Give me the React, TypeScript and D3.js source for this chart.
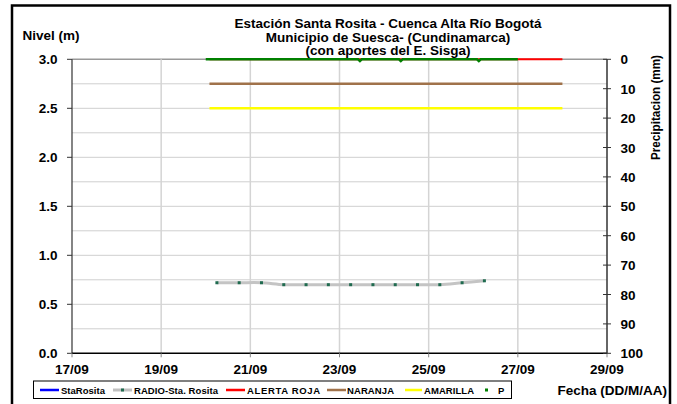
import React from 'react';
import * as d3 from 'd3';

const W = 677;
const H = 404;
const FONT = "Arial, 'Liberation Sans', sans-serif";

const t = (d: number, h: number = 0) => new Date(Date.UTC(2010, 8, d, h));

// x axis
const xDomainStart: [number, number] = [17, 0];
const xDomainEnd: [number, number] = [29, 0];
const xTickDays = [17, 19, 21, 23, 25, 27, 29];
const xTickLabels = ['17/09', '19/09', '21/09', '23/09', '25/09', '27/09', '29/09'];

// left axis (Nivel m)
const yLeftTicks = [0, 0.5, 1.0, 1.5, 2.0, 2.5, 3.0];
const yLeftGrid = [0.25, 0.5, 0.75, 1.0, 1.25, 1.5, 1.75, 2.0, 2.25, 2.5, 2.75, 3.0];

// right axis (Precipitacion mm)
const yRightTicks = [0, 10, 20, 30, 40, 50, 60, 70, 80, 90, 100];

// RADIO-Sta. Rosita series
const radioTimes: [number, number][] = [
  [20, 6], [20, 18], [21, 6], [21, 18], [22, 6], [22, 18], [23, 6],
  [23, 18], [24, 6], [24, 18], [25, 6], [25, 18], [26, 6],
];
const radioValues = [0.72, 0.72, 0.72, 0.70, 0.70, 0.70, 0.70, 0.70, 0.70, 0.70, 0.70, 0.72, 0.74];

// StaRosita (no visible data)
const staRositaTimes: [number, number][] = [];
const staRositaValues: number[] = [];

// Alert thresholds
const alertTimes: [number, number][] = [[20, 2], [28, 0]];
const alertaRoja = 3.0;
const naranja = 2.75;
const amarilla = 2.5;

// Precipitation P
const pTimes: [number, number][] = [
  [20, 0], [23, 10], [23, 11], [23, 12], [24, 8], [24, 9], [24, 10],
  [26, 2], [26, 3], [26, 4], [27, 0],
];
const pValues = [0, 0, 0.6, 0, 0, 0.6, 0, 0, 0.6, 0, 0];

const titleLines = [
  'Estación Santa Rosita - Cuenca Alta Río Bogotá',
  'Municipio de Suesca- (Cundinamarca)',
  '(con aportes del  E. Sisga)',
];

const legendItems = [
  { label: 'StaRosita', color: '#0000ff', kind: 'line' },
  { label: 'RADIO-Sta. Rosita', color: '#c0c0c0', kind: 'radio' },
  { label: 'ALERTA ROJA', color: '#ff0000', kind: 'line' },
  { label: 'NARANJA', color: '#a0724a', kind: 'line' },
  { label: 'AMARILLA', color: '#ffff00', kind: 'line' },
  { label: 'P', color: '#008000', kind: 'dot' },
];

export default function App() {
  const left = 72, right = 607, top = 59.3, bottom = 353.3;
  const x = d3.scaleUtc().domain([t(...xDomainStart), t(...xDomainEnd)]).range([left, right]);
  const yL = d3.scaleLinear().domain([0, 3]).range([bottom, top]);
  const yR = d3.scaleLinear().domain([100, 0]).range([bottom, top]);

  const radioData = radioTimes.map((d, i) => ({ x: t(d[0], d[1]), y: radioValues[i] }));
  const radioLine = d3.line<{ x: Date; y: number }>()
    .x(d => x(d.x)).y(d => yL(d.y)).curve(d3.curveCatmullRom.alpha(0.5));

  const staData = staRositaTimes.map((d, i) => ({ x: t(d[0], d[1]), y: staRositaValues[i] }));
  const staLine = d3.line<{ x: Date; y: number }>().x(d => x(d.x)).y(d => yL(d.y));

  const pData = pTimes.map((d, i) => ({ x: t(d[0], d[1]), y: pValues[i] }));
  const pLine = d3.line<{ x: Date; y: number }>().x(d => x(d.x)).y(d => yR(d.y));

  const aX1 = x(t(...alertTimes[0]));
  const aX2 = x(t(...alertTimes[1]));

  // legend layout
  const legendPos = [
    { lx1: 40, lx2: 59, tx: 61, tw: 44 },
    { lx1: 113, lx2: 132, tx: 134, tw: 84 },
    { lx1: 226, lx2: 245, tx: 247, tw: 73 },
    { lx1: 327, lx2: 346, tx: 347, tw: 47 },
    { lx1: 405, lx2: 422, tx: 424, tw: 50 },
    { lx1: 485, lx2: 489, tx: 498, tw: 6 },
  ];
  const legY = 390;

  return (
    <svg width={W} height={H} style={{ position: 'absolute', left: 0, top: 0, background: '#fff' }}
      fontFamily={FONT}>
      <rect x={0} y={0} width={W} height={H} fill="#fff" />
      {/* outer frame */}
      <rect x={12} y={5.5} width={658} height={420} fill="none" stroke="#000" strokeWidth={2.5} />

      {/* title */}
      {titleLines.map((s, i) => (
        <text key={i} x={388} y={28 + i * 13.5} textAnchor="middle" fontSize={13.5} fontWeight="bold">{s}</text>
      ))}
      <text x={22.5} y={40} fontSize={13.5} fontWeight="bold">Nivel (m)</text>

      {/* grid */}
      {yLeftGrid.map(v => (
        <line key={'hg' + v} x1={left} x2={right} y1={yL(v)} y2={yL(v)}
          stroke={v === 3 ? '#999' : '#cfcfcf'} strokeWidth={v === 3 ? 1.5 : 1} />
      ))}
      {xTickDays.slice(1, -1).map(d => (
        <line key={'vg' + d} x1={x(t(d))} x2={x(t(d))} y1={top} y2={bottom} stroke="#d4d4d4" strokeWidth={1.5} />
      ))}

      {/* left axis */}
      <line x1={left} x2={left} y1={top} y2={bottom} stroke="#333" strokeWidth={1.2} />
      {yLeftTicks.map(v => (
        <g key={'yl' + v}>
          <line x1={left - 5} x2={left} y1={yL(v)} y2={yL(v)} stroke="#333" strokeWidth={1} />
          <text x={57.5} y={yL(v) + 5} textAnchor="end" fontSize={13.5} fontWeight="bold">{v.toFixed(1)}</text>
        </g>
      ))}

      {/* bottom axis */}
      <line x1={left} x2={right} y1={bottom} y2={bottom} stroke="#000" strokeWidth={1.5} />
      {xTickDays.map((d, i) => (
        <g key={'xt' + d}>
          <line x1={x(t(d))} x2={x(t(d))} y1={bottom} y2={bottom + 4} stroke="#888" strokeWidth={1} />
          <text x={x(t(d))} y={374} textAnchor="middle" fontSize={13.5} fontWeight="bold">{xTickLabels[i]}</text>
        </g>
      ))}

      {/* right axis */}
      <line x1={right} x2={right} y1={top} y2={bottom} stroke="#333" strokeWidth={1.5} />
      {yRightTicks.map(v => (
        <g key={'yr' + v}>
          <line x1={right - 4} x2={right + 4} y1={yR(v)} y2={yR(v)} stroke="#333" strokeWidth={1} />
          <text x={620.5} y={yR(v) + 5} fontSize={13.5} fontWeight="bold">{v}</text>
        </g>
      ))}
      <text transform={`translate(659.5,107.5) rotate(-90)`} textAnchor="middle" fontSize={12.5} fontWeight="bold"
        textLength={105} lengthAdjust="spacingAndGlyphs">Precipitacion (mm)</text>

      {/* thresholds */}
      <line x1={aX1} x2={aX2} y1={yL(amarilla)} y2={yL(amarilla)} stroke="#ffff00" strokeWidth={2.5} />
      <line x1={aX1} x2={aX2} y1={yL(naranja)} y2={yL(naranja)} stroke="#a0724a" strokeWidth={2.5} />
      <line x1={aX1} x2={aX2} y1={yL(alertaRoja)} y2={yL(alertaRoja)} stroke="#ff0000" strokeWidth={2} />

      {/* StaRosita */}
      {staData.length > 0 && <path d={staLine(staData) || ''} fill="none" stroke="#0000ff" strokeWidth={2} />}

      {/* RADIO */}
      <path d={radioLine(radioData) || ''} fill="none" stroke="#c4c4c4" strokeWidth={3} />
      {radioData.map((d, i) => (
        <rect key={'rm' + i} x={x(d.x) - 1.5} y={yL(d.y) - 1.5} width={3} height={3} fill="#1f6b4f" />
      ))}

      {/* P */}
      <path d={pLine(pData) || ''} fill="none" stroke="#008000" strokeWidth={2.5} />

      {/* legend */}
      <rect x={33.5} y={381} width={478} height={17.5} fill="#fff" stroke="#000" strokeWidth={1} />
      {legendItems.map((it, i) => {
        const p = legendPos[i];
        return (
          <g key={'lg' + i}>
            {it.kind === 'line' && <line x1={p.lx1} x2={p.lx2} y1={legY} y2={legY} stroke={it.color} strokeWidth={2.5} />}
            {it.kind === 'radio' && (
              <g>
                <line x1={p.lx1} x2={p.lx2} y1={legY} y2={legY} stroke={it.color} strokeWidth={3} />
                <rect x={(p.lx1 + p.lx2) / 2 - 1.5} y={legY - 1.5} width={3} height={3} fill="#1f6b4f" />
              </g>
            )}
            {it.kind === 'dot' && <rect x={p.lx1} y={legY - 1.5} width={3} height={3} fill={it.color} />}
            <text x={p.tx} y={legY + 3.5} fontSize={9.5} fontWeight="bold"
              textLength={p.tw} lengthAdjust="spacing">{it.label}</text>
          </g>
        );
      })}
      <text x={667} y={395} textAnchor="end" fontSize={13.5} fontWeight="bold">Fecha (DD/M/AA)</text>
    </svg>
  );
}
